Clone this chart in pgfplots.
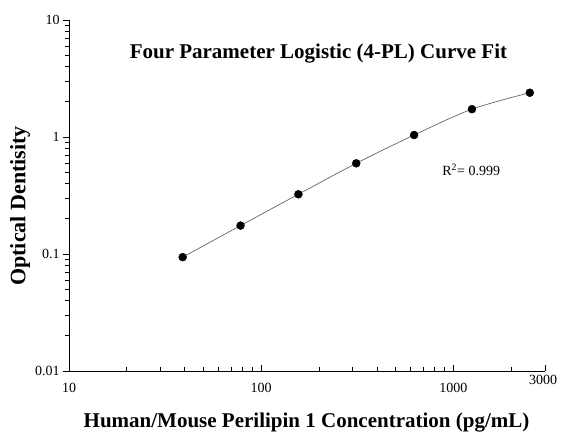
\documentclass[border=0pt]{standalone}
\usepackage{pgfplots}
\pgfplotsset{compat=1.18}
\usepackage{pgfplotstable}
\usepackage{fontspec}
\setmainfont{Liberation Serif}
\pgfplotstableread{
x y
39.0625 0.094
78.125 0.175
156.25 0.324
312.5 0.596
625 1.04
1250 1.73
2500 2.39
}\stddata
\begin{document}
\begin{tikzpicture}
\begin{axis}[
  name=ax,
  scale only axis,
  width=476pt, height=351pt,
  xmode=log, ymode=log,
  xmin=10, xmax=3000, ymin=0.01, ymax=10,
  axis x line=bottom, axis y line=left,
  axis line style={-, black, line width=0.8pt},
  xtick={10,100,1000},
  xticklabels={10,100,1000},
  extra x ticks={3000},
  extra x tick labels={{\fontsize{14}{16}\selectfont 3000}},
  extra x tick style={xticklabel style={yshift=8pt, xshift=-2pt}},
  minor xtick={20,30,40,50,60,70,80,90,200,300,400,500,600,700,800,900,2000},
  ytick={0.01,0.1,1,10},
  yticklabels={0.01,0.1,1,10},
  minor ytick={0.02,0.03,0.04,0.05,0.06,0.07,0.08,0.09,0.2,0.3,0.4,0.5,0.6,0.7,0.8,0.9,2,3,4,5,6,7,8,9},
  tick align=outside,
  major tick length=6pt, minor tick length=4pt,
  major x tick style={yshift=6pt},
  minor x tick style={yshift=4pt},
  tick style={black, line width=0.7pt},
  tick label style={font=\fontsize{14}{16}\selectfont},
  xticklabel style={yshift=-3pt},
  clip=false,
]
\addplot[gray!80!black, line width=0.7pt, smooth] table[x=x,y=y] {\stddata};
\addplot[only marks, mark=*, mark size=4pt, mark options={fill=black, draw=black}] table[x=x,y=y] {\stddata};
\node[anchor=base, font=\fontsize{21}{25}\selectfont\bfseries] at (rel axis cs:0.524,0.889) {Four Parameter Logistic (4-PL) Curve Fit};
\node[anchor=base west, font=\fontsize{14}{16}\selectfont, inner sep=0pt] at (rel axis cs:0.784,0.556) {R\textsuperscript{2}= 0.999};
\coordinate (bl) at (rel axis cs:0,0);
\end{axis}
\path (bl) ++(237.5pt,-56pt) node[anchor=base, font=\fontsize{21}{25}\selectfont\bfseries] {Human/Mouse Perilipin 1 Concentration (pg/mL)};
\path (bl) ++(-49pt,165pt) node[rotate=90, font=\fontsize{22}{26}\selectfont\bfseries] {Optical Dentisity};
\pgfresetboundingbox
\path[use as bounding box] (bl) ++(-69pt,-61pt) rectangle ++(561pt,432pt);
\end{tikzpicture}
\end{document}
